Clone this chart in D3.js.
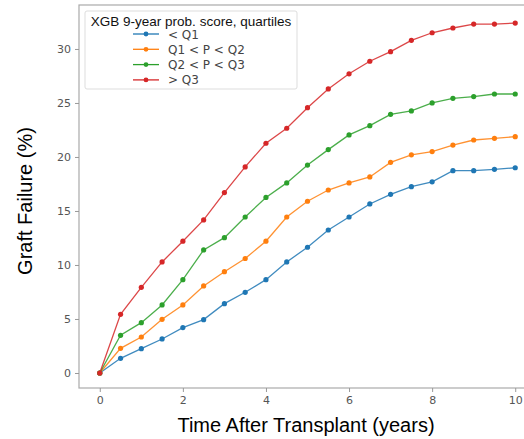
<!DOCTYPE html>
<html>
<head>
<meta charset="utf-8">
<script src="https://cdn.jsdelivr.net/npm/d3@7"></script>
<style>
  body { margin: 0; background: #fff; }
  svg { display: block; }
</style>
</head>
<body>
<div id="chart"></div>
<script>
// Graft failure by XGB score quartile
const years = [0, 0.5, 1, 1.5, 2, 2.5, 3, 3.5, 4, 4.5, 5, 5.5, 6, 6.5, 7, 7.5, 8, 8.5, 9, 9.5, 10];
const seriesNames = ["< Q1", "Q1 < P < Q2", "Q2 < P < Q3", "> Q3"];
const q1Values = [0, 1.36, 2.25, 3.15, 4.2, 4.94, 6.42, 7.47, 8.64, 10.28, 11.64, 13.24, 14.44, 15.65, 16.54, 17.25, 17.7, 18.73, 18.73, 18.86, 19.0];
const q2Values = [0, 2.28, 3.33, 4.97, 6.3, 8.06, 9.38, 10.6, 12.2, 14.44, 15.9, 16.94, 17.6, 18.15, 19.5, 20.2, 20.5, 21.1, 21.57, 21.73, 21.88];
const q3Values = [0, 3.49, 4.66, 6.3, 8.64, 11.39, 12.53, 14.44, 16.25, 17.6, 19.25, 20.68, 22.04, 22.9, 23.95, 24.26, 25.0, 25.43, 25.59, 25.83, 25.83];
const q4Values = [0, 5.43, 7.93, 10.28, 12.2, 14.17, 16.7, 19.08, 21.27, 22.66, 24.56, 26.3, 27.7, 28.86, 29.75, 30.8, 31.5, 31.94, 32.3, 32.3, 32.4];
const xTicks = [0, 2, 4, 6, 8, 10];
const yTicks = [0, 5, 10, 15, 20, 25, 30];
const colors = ["#1f77b4", "#ff7f0e", "#2ca02c", "#d62728"];

(function () {
    const width = 524;
    const height = 439;
    const frame = { left: 79, top: 5, right: 536, bottom: 388 };

    const svg = d3.select('#chart')
        .append('svg')
        .attr('width', width)
        .attr('height', height);

    const x = d3.scaleLinear().domain([-0.5, 10.5]).range([frame.left, frame.right]);
    const y = d3.scaleLinear().domain([-1.39, 34.07]).range([frame.bottom, frame.top]);

    // frame
    svg.append('rect')
        .attr('x', frame.left)
        .attr('y', frame.top)
        .attr('width', frame.right - frame.left)
        .attr('height', frame.bottom - frame.top)
        .attr('fill', 'none')
        .attr('stroke', '#aaa')
        .attr('stroke-width', 1.2);

    const xAxis = svg.append('g')
        .attr('transform', `translate(0,${frame.bottom})`)
        .call(d3.axisBottom(x).tickValues(xTicks).tickSize(4).tickPadding(4).tickFormat(d3.format('d')));
    const yAxis = svg.append('g')
        .attr('transform', `translate(${frame.left},0)`)
        .call(d3.axisLeft(y).tickValues(yTicks).tickSize(4).tickPadding(4).tickFormat(d3.format('d')));

    [xAxis, yAxis].forEach(a => {
        a.select('.domain').remove();
        a.selectAll('line').attr('stroke', '#999');
        a.selectAll('text')
            .attr('fill', '#555')
            .style('font-family', 'DejaVu Sans')
            .style('font-size', '11px');
    });

    const allSeries = [q1Values, q2Values, q3Values, q4Values];
    const line = d3.line()
        .x((d, i) => x(years[i]))
        .y(d => y(d));

    allSeries.forEach((vals, k) => {
        const g = svg.append('g');
        g.append('path')
            .datum(vals)
            .attr('d', line)
            .attr('fill', 'none')
            .attr('stroke', colors[k])
            .attr('stroke-width', 1.3)
            .attr('opacity', 0.85);
        g.selectAll('circle')
            .data(vals)
            .enter()
            .append('circle')
            .attr('cx', (d, i) => x(years[i]))
            .attr('cy', d => y(d))
            .attr('r', 2.6)
            .attr('fill', colors[k]);
    });

    // legend
    const lg = svg.append('g');
    lg.append('rect')
        .attr('x', 85).attr('y', 11)
        .attr('width', 212).attr('height', 78)
        .attr('rx', 2)
        .attr('fill', '#fff')
        .attr('stroke', '#ddd');
    lg.append('text')
        .attr('x', 191).attr('y', 26)
        .attr('text-anchor', 'middle')
        .style('font-family', 'Liberation Sans, Arial')
        .style('font-size', '13.5px')
        .attr('fill', '#111')
        .text('XGB 9-year prob. score, quartiles');
    seriesNames.forEach((name, k) => {
        const yy = 34 + k * 15.3;
        lg.append('line')
            .attr('x1', 133).attr('x2', 159)
            .attr('y1', yy).attr('y2', yy)
            .attr('stroke', colors[k])
            .attr('stroke-width', 1.3);
        lg.append('circle')
            .attr('cx', 146).attr('cy', yy).attr('r', 2.4)
            .attr('fill', colors[k]);
        lg.append('text')
            .attr('x', 168).attr('y', yy + 4.5)
            .style('font-family', 'DejaVu Sans')
            .style('font-size', '12px')
            .attr('fill', '#444')
            .text(name);
    });

    // axis titles
    svg.append('text')
        .attr('x', 306).attr('y', 432)
        .attr('text-anchor', 'middle')
        .style('font-family', 'Liberation Sans, Arial')
        .style('font-size', '20px')
        .attr('fill', '#000')
        .text('Time After Transplant (years)');
    svg.append('text')
        .attr('transform', 'translate(32,201) rotate(-90)')
        .attr('text-anchor', 'middle')
        .style('font-family', 'Liberation Sans, Arial')
        .style('font-size', '20px')
        .attr('fill', '#000')
        .text('Graft Failure (%)');
})();
</script>
</body>
</html>
